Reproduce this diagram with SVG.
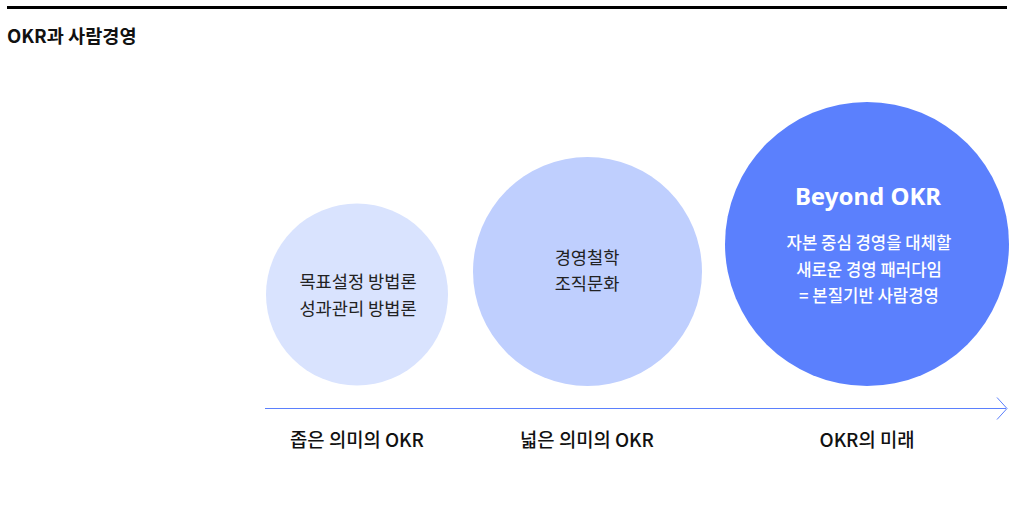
<svg xmlns="http://www.w3.org/2000/svg" width="1017" height="505" viewBox="0 0 1017 505">
<style>
text{font-family:"Noto Sans CJK KR","Noto Sans",sans-serif;fill:#222;text-anchor:middle}
.t{font-size:17.6px}
.w{fill:#fff;font-size:16.7px;font-weight:500}
.lbl{font-size:18.8px;font-weight:500;fill:#111}
</style>
<rect width="1017" height="505" fill="#fff"/>
<rect x="7" y="6" width="1000" height="3" fill="#000"/>
<text x="7" y="43" style="text-anchor:start;font-size:18.6px;font-weight:700;fill:#111">OKR과 사람경영</text>
<g id="node1">
<circle cx="357" cy="294.5" r="91" fill="#d9e3fe"/>
<text class="t" x="358" y="288">목표설정 방법론</text>
<text class="t" x="358" y="315">성과관리 방법론</text>
</g>
<g id="node2">
<circle cx="587.5" cy="271.5" r="114.5" fill="#bfcffe"/>
<text class="t" x="587" y="264">경영철학</text>
<text class="t" x="587" y="290">조직문화</text>
</g>
<g id="node3">
<circle cx="867" cy="244" r="142" fill="#5b80fd"/>
<text x="868" y="205" style="fill:#fff;font-family:'Noto Sans','Noto Sans CJK KR',sans-serif;font-size:24px;font-weight:700">Beyond OKR</text>
<text class="w" x="869" y="249">자본 중심 경영을 대체할</text>
<text class="w" x="869" y="276">새로운 경영 패러다임</text>
<text class="w" x="869" y="302">= 본질기반 사람경영</text>
</g>
<g id="connectors">
<line x1="265" y1="408.5" x2="1006" y2="408.5" stroke="#5b80fd" stroke-width="1"/>
<polyline points="997,397.5 1007,408.5 997,419.5" fill="none" stroke="#5b80fd" stroke-width="1"/>
</g>
<g id="labels">
<text class="lbl" x="357" y="447">좁은 의미의 OKR</text>
<text class="lbl" x="587" y="447">넓은 의미의 OKR</text>
<text class="lbl" x="867" y="447">OKR의 미래</text>
</g>
</svg>
